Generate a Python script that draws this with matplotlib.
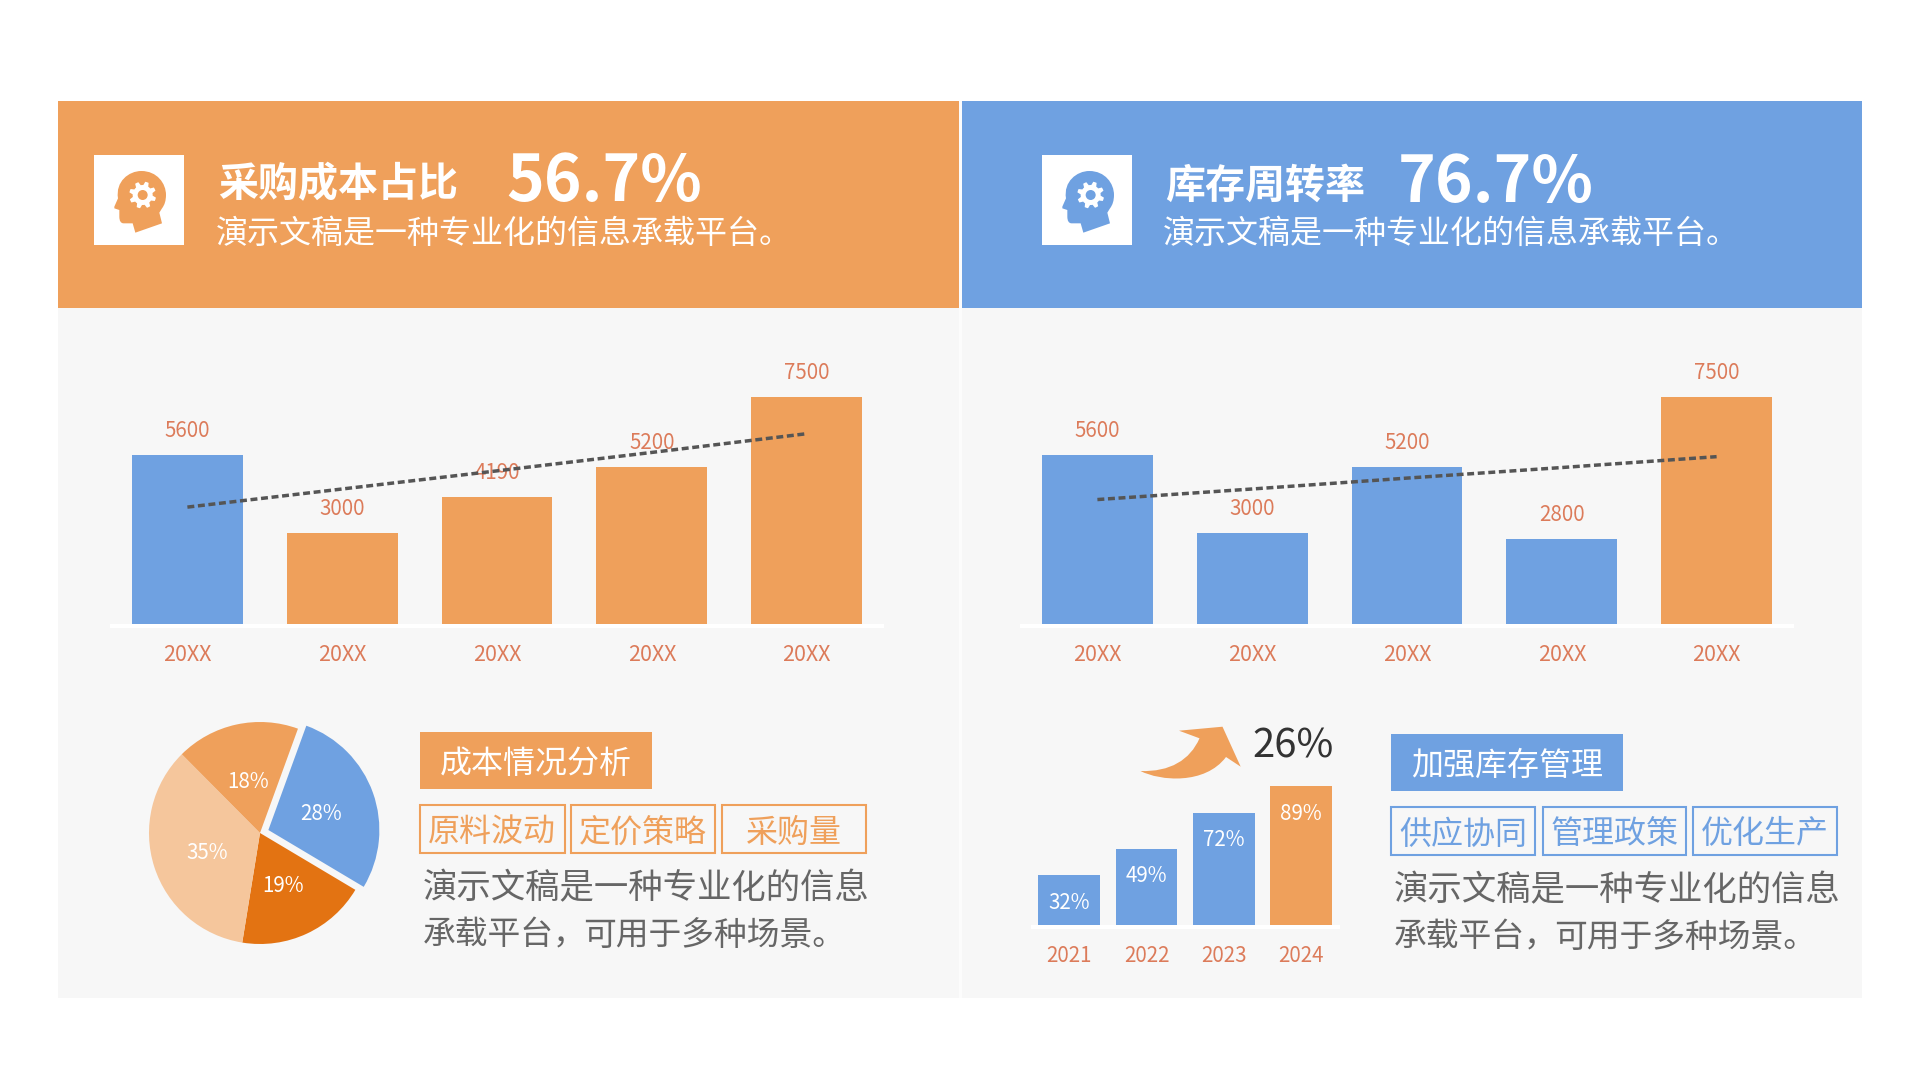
import numpy as np
import matplotlib
matplotlib.use('Agg')
import matplotlib.pyplot as plt
from matplotlib.patches import Rectangle, Circle, PathPatch
from matplotlib.path import Path

plt.rcParams['font.family'] = ['Noto Sans CJK SC', 'DejaVu Sans']

# Chart data
years_x = ['20XX', '20XX', '20XX', '20XX', '20XX']
cost_values = [5600, 3000, 4190, 5200, 7500]
cost_trend = [3870, 4470, 5070, 5680, 6300]
stock_values = [5600, 3000, 5200, 2800, 7500]
stock_trend = [4120, 4470, 4830, 5180, 5540]

pie_labels = ['28%', '19%', '35%', '18%']
pie_values = [28, 19, 35, 18]

small_years = ['2021', '2022', '2023', '2024']
small_values = [32, 49, 72, 89]

# Text
left_title = '采购成本占比'
left_big = '56.7%'
right_title = '库存周转率'
right_big = '76.7%'
sub_text = '演示文稿是一种专业化的信息承载平台。'
left_box_title = '成本情况分析'
right_box_title = '加强库存管理'
left_tags = ['原料波动', '定价策略', '采购量']
right_tags = ['供应协同', '管理政策', '优化生产']
para_line1 = '演示文稿是一种专业化的信息'
para_line2a = '承载平台，'
para_line2b = '可用于多种场景。'
arrow_text = '26%'

ORANGE = '#EFA05B'
BLUE = '#6FA1E1'
DARK_ORANGE = '#E37312'
LIGHT_ORANGE = '#F5C69C'
LABEL = '#DC7B5A'
GREY = '#666666'
PANEL = '#F7F7F7'


def fs(px):
    # font size from pixel height, figure is 100 dpi
    return px * 0.72


fig = plt.figure(figsize=(19.2, 10.8), dpi=100, facecolor='white')


def axes_px(left, top, right, bottom):
    a = fig.add_axes([left / 1920, 1 - bottom / 1080, (right - left) / 1920, (bottom - top) / 1080])
    a.patch.set_alpha(0)
    return a


# Background layer in pixel coordinates
bg = axes_px(0, 0, 1920, 1080)
bg.set_xlim(0, 1920)
bg.set_ylim(1080, 0)
bg.axis('off')

bg.add_patch(Rectangle((58, 101), 1804, 897, fc='#FCFCFC', ec='none'))
bg.add_patch(Rectangle((58, 308), 901, 690, fc=PANEL, ec='none'))
bg.add_patch(Rectangle((962, 308), 900, 690, fc=PANEL, ec='none'))
bg.add_patch(Rectangle((58, 101), 901, 207, fc=ORANGE, ec='none'))
bg.add_patch(Rectangle((962, 101), 900, 207, fc=BLUE, ec='none'))


def draw_icon(x0, color):
    bg.add_patch(Rectangle((x0, 155), 90, 90, fc='white', ec='none'))
    # head outline, drawn at 3x and scaled down
    verts = [(240, 235), (160, 263), (152, 235), (125, 235), (112, 235), (112, 215), (112, 195),
             (97, 190), (97, 185), (108, 160), (100, 110), (140, 78), (178, 78),
             (225, 78), (252, 115), (252, 150), (252, 175), (240, 190), (232, 203), (240, 235)]
    codes = [Path.MOVETO, Path.LINETO, Path.LINETO, Path.LINETO, Path.CURVE3, Path.CURVE3, Path.LINETO,
             Path.LINETO, Path.LINETO, Path.LINETO, Path.CURVE4, Path.CURVE4, Path.CURVE4,
             Path.CURVE4, Path.CURVE4, Path.CURVE4, Path.CURVE3, Path.CURVE3, Path.LINETO, Path.CLOSEPOLY]
    pts = [(x0 - 12 + x / 3, 145 + y / 3) for x, y in verts]
    bg.add_patch(PathPatch(Path(pts, codes), fc=color, ec='none'))
    # gear
    cx, cy = x0 - 12 + 182 / 3, 145 + 150 / 3
    ang = np.linspace(0, 2 * np.pi, 48, endpoint=False) + np.pi / 8 - np.pi / 24 * 1.5
    rad = np.where(np.arange(48) % 6 < 3, 13.5, 10)
    bg.fill(cx + rad * np.cos(ang), cy + rad * np.sin(ang), color='white', lw=0)
    bg.add_patch(Circle((cx, cy), 5, fc=color, ec='none'))


draw_icon(94, ORANGE)
draw_icon(1042, BLUE)

# Header text
bg.text(218, 184.5, left_title, color='white', fontsize=fs(40), fontweight='bold', ha='left', va='center')
bg.text(506, 182, left_big, color='white', fontsize=fs(64), fontweight='bold', ha='left', va='center')
bg.text(216, 234, sub_text, color='white', fontsize=fs(32), ha='left', va='center')
bg.text(1165, 186.5, right_title, color='white', fontsize=fs(40), fontweight='bold', ha='left', va='center')
bg.text(1398, 183, right_big, color='white', fontsize=fs(64), fontweight='bold', ha='left', va='center')
bg.text(1163, 234, sub_text, color='white', fontsize=fs(32), ha='left', va='center')


def clean_axis(ax, pad, label_px):
    for s in ['top', 'left', 'right']:
        ax.spines[s].set_visible(False)
    ax.spines['bottom'].set_position(('outward', 1.44))
    ax.spines['bottom'].set_color('white')
    ax.spines['bottom'].set_linewidth(2.88)
    ax.spines['bottom'].set_capstyle('butt')
    ax.set_yticks([])
    ax.tick_params(axis='x', length=0, pad=pad, labelcolor=LABEL, labelsize=fs(label_px))


# Main bar charts
def bar_chart(left, values, trend, colors):
    ax = axes_px(left, 352, left + 774, 624)
    xs = np.arange(len(values))
    ax.bar(xs, values, width=0.717, color=colors)
    ax.plot(xs, trend, color='#555555', lw=2.5, dashes=(2, 1.05), zorder=5)
    for i, v in enumerate(values):
        ax.annotate(str(v), (i, v), xytext=(0, 17.5), textcoords='offset points', ha='center', va='center',
                    color=LABEL, fontsize=fs(20.5), annotation_clip=False)
    ax.set_xlim(-0.5, 4.5)
    ax.set_ylim(0, 9005)
    ax.set_xticks(xs)
    ax.set_xticklabels(years_x)
    clean_axis(ax, 13.2, 21.5)
    return ax


bar_chart(110, cost_values, cost_trend, [BLUE, ORANGE, ORANGE, ORANGE, ORANGE])
bar_chart(1020, stock_values, stock_trend, [BLUE, BLUE, BLUE, BLUE, ORANGE])

# Pie
R = 111
ax_pie = axes_px(260 - 140, 833 - 140, 260 + 140, 833 + 140)
wedges, pie_texts, pct_texts = ax_pie.pie(
    pie_values, colors=[BLUE, DARK_ORANGE, LIGHT_ORANGE, ORANGE], startangle=70, counterclock=False,
    explode=[0.08, 0, 0, 0], autopct='%.0f%%', pctdistance=0.5,
    textprops={'color': 'white', 'fontsize': fs(20.5), 'va': 'center'})
for t in pct_texts:
    px_, py_ = t.get_position()
    t.set_position((px_, py_ - 3 / R))
ax_pie.set_xlim(-140 / R, 140 / R)
ax_pie.set_ylim(-140 / R, 140 / R)

# Small bars
ax_small = axes_px(1030.7, 769, 1339.5, 925)
xs_small = np.arange(len(small_values))
ax_small.bar(xs_small, small_values, width=0.8, color=[BLUE, BLUE, BLUE, ORANGE])
for i, v in enumerate(small_values):
    ax_small.annotate(f'{v}%', (i, v), xytext=(0, -20), textcoords='offset points', ha='center', va='center',
                      color='white', fontsize=fs(20.5))
ax_small.set_xlim(-0.5, 3.5)
ax_small.set_ylim(0, 100)
ax_small.set_xticks(xs_small)
ax_small.set_xticklabels(small_years)
clean_axis(ax_small, 13, 20.5)

# Arrow above small bars
arrow_verts = [(1140.5, 771), (1160, 781), (1205, 785), (1226, 757), (1240.7, 766.7), (1222.5, 726.7),
               (1179, 730.7), (1199.5, 738.3), (1190, 760), (1170, 772), (1140.5, 771), (1140.5, 771)]
arrow_codes = [Path.MOVETO, Path.CURVE4, Path.CURVE4, Path.CURVE4, Path.LINETO, Path.LINETO,
               Path.LINETO, Path.LINETO, Path.CURVE4, Path.CURVE4, Path.CURVE4, Path.CLOSEPOLY]
bg.add_patch(PathPatch(Path(arrow_verts, arrow_codes), fc=ORANGE, ec='none'))
bg.text(1293, 746, arrow_text, color='#333333', fontsize=fs(40), ha='center', va='center')

# Text blocks next to pie and small bars
bg.add_patch(Rectangle((420, 732), 232, 57, fc=ORANGE, ec='none'))
bg.text(536, 763.5, left_box_title, color='white', fontsize=fs(32), ha='center', va='center')
bg.add_patch(Rectangle((1391, 734), 232, 57, fc=BLUE, ec='none'))
bg.text(1507, 765.5, right_box_title, color='white', fontsize=fs(32), ha='center', va='center')

left_tag_x = [(420, 564.5), (571, 715), (722, 865.5)]
right_tag_x = [(1391, 1535), (1543, 1686), (1693, 1837)]
for tags, spans, top, col in [(left_tags, left_tag_x, 805, ORANGE), (right_tags, right_tag_x, 807, BLUE)]:
    for t, (x0, x1) in zip(tags, spans):
        bg.add_patch(Rectangle((x0, top), x1 - x0, 48, fc='none', ec=col, lw=1.5))
        bg.text((x0 + x1) / 2, top + 27.5, t, color=col, fontsize=fs(32), ha='center', va='center')

# second line is set tighter in the reference, comma takes less room
for px, py in [(423, 888.5), (1394, 890.5)]:
    bg.text(px, py, para_line1, color=GREY, fontsize=fs(34.4), ha='left', va='center')
    bg.text(px, py + 47, para_line2a, color=GREY, fontsize=fs(32.8), ha='left', va='center')
    bg.text(px + 160, py + 47, para_line2b, color=GREY, fontsize=fs(32.8), ha='left', va='center')

fig.savefig('out.png', dpi=100, facecolor='white')
